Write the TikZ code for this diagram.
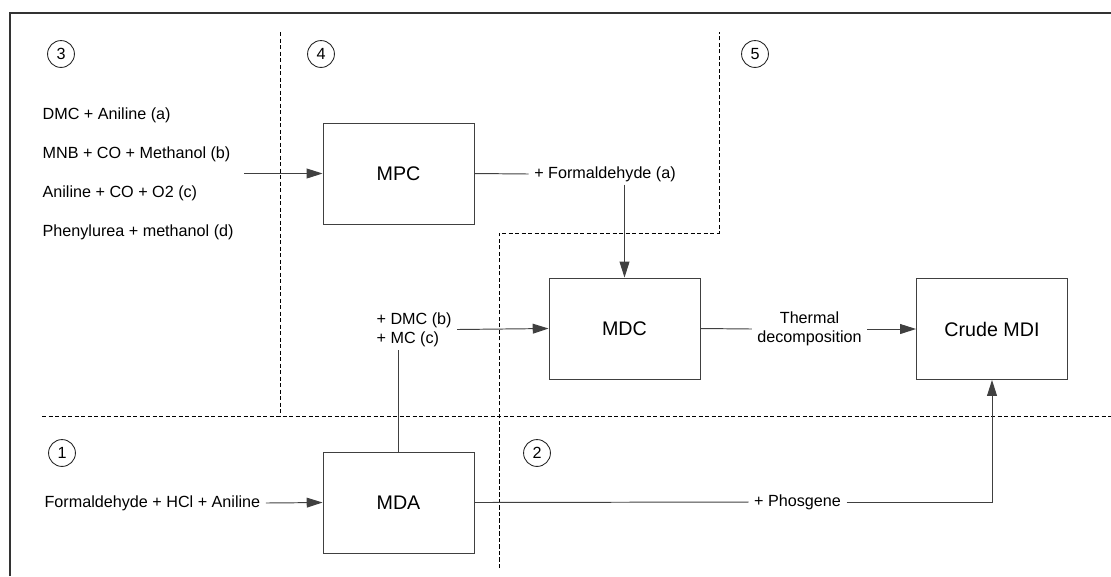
\documentclass[tikz,border=0pt]{standalone}
\usepackage{fontspec}
\setmainfont{Liberation Sans}
\usetikzlibrary{arrows.meta}

\begin{document}
\begin{tikzpicture}[x=0.02cm, y=-0.02cm,
    box/.style={draw=black!75, line width=0.55pt, minimum width=3.02cm, minimum height=2.02cm, font=\fontsize{11.2}{13}\selectfont},
    lbl/.style={inner xsep=3pt, inner ysep=1.5pt, font=\fontsize{9.2}{10.8}\selectfont},
    num/.style={draw=black!85, circle, line width=0.5pt, minimum size=15.3pt, inner sep=0pt, font=\fontsize{9.2}{10.8}\selectfont},
    conn/.style={draw=black!75, line width=0.55pt},
    zone/.style={draw=black, line width=0.5pt, dash pattern=on 2.4pt off 1.3pt},
    >={Triangle[length=9pt, width=5.6pt]}]
        \useasboundingbox (0,0) rectangle (1111,576);
        \draw[black!80, line width=1.2pt] (10,576) -- (10,13) -- (1111,13);

        % zones
        \draw[zone] (280,32) -- (280,416);
        \draw[zone] (42,416) -- (1111,416);
        \draw[zone] (499,568) -- (499,233) -- (719,233) -- (719,32);

        \node[num] (z3) at (61,54) {3};
        \node[num] (z4) at (321,54) {4};
        \node[num] (z5) at (755,54) {5};
        \node[num] (z1) at (62,453) {1};
        \node[num] (z2) at (537,453) {2};

        % process boxes
        \node[box] (mpc) at (398.5,173.5) {MPC};
        \node[box] (mda) at (398.5,502.5) {MDA};
        \node[box] (mdc) at (624.5,328.5) {MDC};
        \node[box] (cmdi) at (992,329) {Crude MDI};

        % feeds
        \node[lbl, anchor=west] (fa1) at (37,115) {DMC + Aniline (a)};
        \node[lbl, anchor=west] (fb1) at (37,154) {MNB + CO + Methanol (b)};
        \node[lbl, anchor=west] (fc1) at (37,193) {Aniline + CO + O2 (c)};
        \node[lbl, anchor=west] (fd1) at (37,232) {Phenylurea + methanol (d)};
        \coordinate (feed) at (244,173.5);
        \node[lbl, anchor=west] (fhcl) at (39,503) {Formaldehyde + HCl + Aniline};

        \node[lbl] (form) at (605,174) {+ Formaldehyde (a)};
        \node[lbl, align=left, anchor=west] (dmc) at (371,329.5) {+ DMC (b)\\+ MC (c)};
        \node[lbl, align=center] (therm) at (809.5,329) {Thermal\\decomposition};
        \node[lbl] (phos) at (797.5,502) {+ Phosgene};

        \draw[conn, ->] (feed) -- (mpc.west);
        \draw[conn, ->] (fhcl.east) -- (mda.west);
        \draw[conn] (mpc.east) -- (form.west);
        \draw[conn, ->] (form.south -| mdc.north) -- (mdc.north);
        \draw[conn] (mda.north) -- (mda.north |- dmc.south);
        \draw[conn, ->] (dmc.east) -- (mdc.west);
        \draw[conn] (mdc.east) -- (therm.west);
        \draw[conn, ->] (therm.east) -- (cmdi.west);
        \draw[conn] (mda.east) -- (phos.west);
        \draw[conn, ->] (phos.east) -| (cmdi.south);
    \end{tikzpicture}
\end{document}
